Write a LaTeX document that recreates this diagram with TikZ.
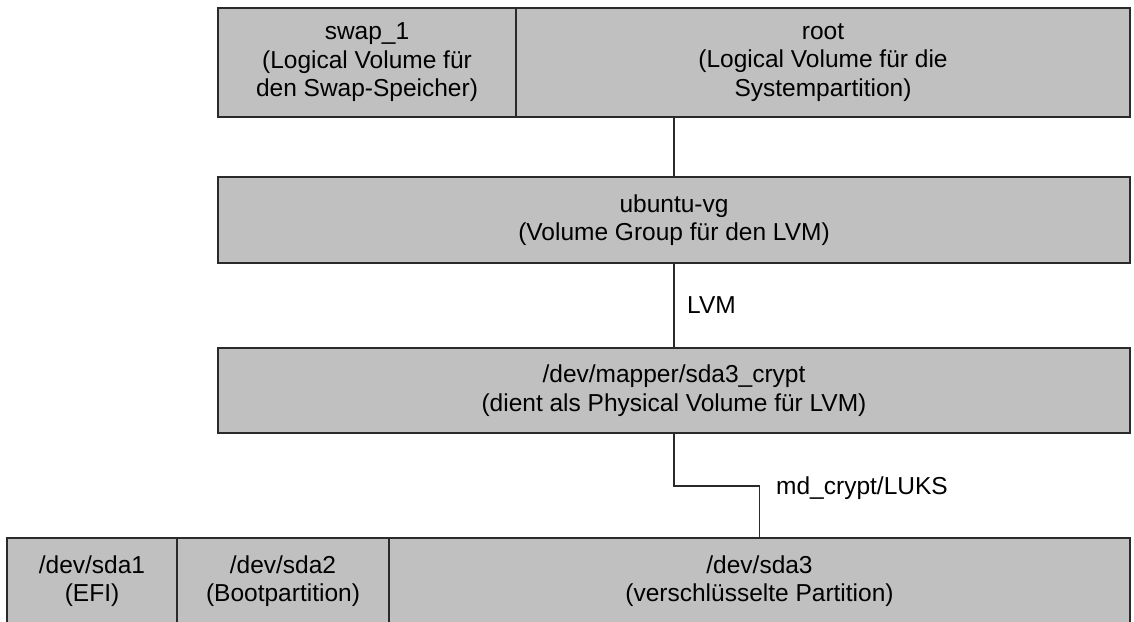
\documentclass[tikz,border=0pt]{standalone}
\usepackage{fontspec}
\setmainfont{Liberation Sans}
\definecolor{boxfill}{HTML}{C0C0C0}
\definecolor{boxline}{HTML}{2A2A2A}
\begin{document}
\begin{tikzpicture}[x=1pt,y=-1pt,
  box/.style={draw=boxline,fill=boxfill,line width=1.6pt,rectangle,inner sep=0pt,
    align=center,font=\fontsize{24.5}{28.5}\selectfont,anchor=center},
  conn/.style={draw=boxline,line width=1.3pt},
  lbl/.style={font=\fontsize{24.5}{28.5}\selectfont,anchor=west,inner sep=0pt}]
\useasboundingbox (0,0) rectangle (1134,621);
\clip (0,0) rectangle (1134,621);
\fill[white] (0,0) rectangle (1134,621);
% top row
\node[box,minimum width=298pt,minimum height=109pt] (swap) at (367,62.5)
  {swap\_1\\(Logical Volume für\\den Swap-Speicher)};
\node[box,minimum width=614pt,minimum height=109pt] (root) at (823,62.5)
  {root\\(Logical Volume für die\\Systempartition)};
% volume group
\node[box,minimum width=912pt,minimum height=86pt] (vg) at (674,220)
  {ubuntu-vg\\(Volume Group für den LVM)};
% crypt
\node[box,minimum width=912pt,minimum height=85pt] (crypt) at (674,390.5)
  {/dev/mapper/sda3\_crypt\\(dient als Physical Volume für LVM)};
% bottom row
\node[box,minimum width=170pt,minimum height=86pt] (sda1) at (92,581)
  {/dev/sda1\\(EFI)};
\node[box,minimum width=212pt,minimum height=86pt] (sda2) at (283,581)
  {/dev/sda2\\(Bootpartition)};
\node[box,minimum width=741pt,minimum height=86pt] (sda3) at (759.5,581)
  {/dev/sda3\\(verschlüsselte Partition)};
% connectors
\coordinate (top) at (674,117);
\draw[conn] (top) -- (vg.north);
\draw[conn] (vg.south) -- (crypt.north);
\coordinate (bend) at (674,486);
\draw[conn] (crypt.south) |- (bend) -| (sda3.north);
% labels
\node[lbl] (lvm) at (687,305) {LVM};
\node[lbl] (luks) at (776,488) {md\_crypt/LUKS};
\end{tikzpicture}
\end{document}
